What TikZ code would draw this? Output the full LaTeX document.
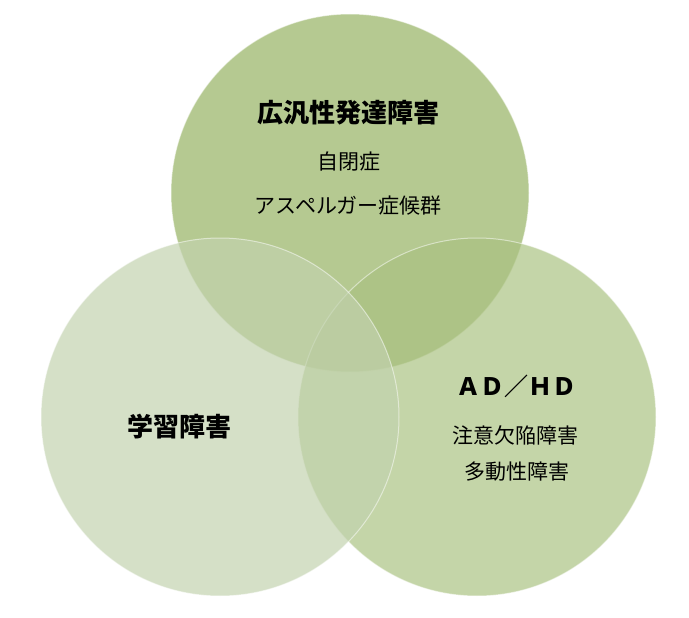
\documentclass[tikz,border=0pt]{standalone}
\usepackage{fontspec}
\setmainfont{Noto Sans CJK JP}
\usepackage{tikz}

\definecolor{pddgreen}{RGB}{148,177,96}
\definecolor{adhdgreen}{RGB}{170,194,129}
\definecolor{ldgreen}{RGB}{194,210,174}

\tikzset{
  venn/.style = {fill opacity=0.69, draw=white, draw opacity=0.5, line width=1pt},
  head/.style = {font=\fontsize{26}{30}\selectfont\bfseries, inner sep=0pt},
  item/.style = {font=\fontsize{21}{25}\selectfont, inner sep=0pt}
}

\begin{document}
\begin{tikzpicture}[x=1pt, y=-1pt]
\useasboundingbox (0,0) rectangle (689,618);

% circles
\path[venn, fill=pddgreen] (350,193) circle (179);
\path[venn, fill=adhdgreen] (477,417) circle (179);
\path[venn, fill=ldgreen] (220,417) circle (179);

% top
\node[head] (pdd) at (348,113) {広汎性発達障害};
\node[item] (autism) at (349,162) {自閉症};
\node[item] (asperger) at (348,206) {アスペルガー症候群};

% left
\node[head] (ld) at (179,427) {学習障害};

% right
\node[head, font=\fontsize{24}{28}\selectfont\bfseries] (adhd) at (516,386) {ＡＤ／ＨＤ};
\node[item] (inatt) at (515,435) {注意欠陥障害};
\node[item] (hyper) at (517,472) {多動性障害};
\end{tikzpicture}
\end{document}
